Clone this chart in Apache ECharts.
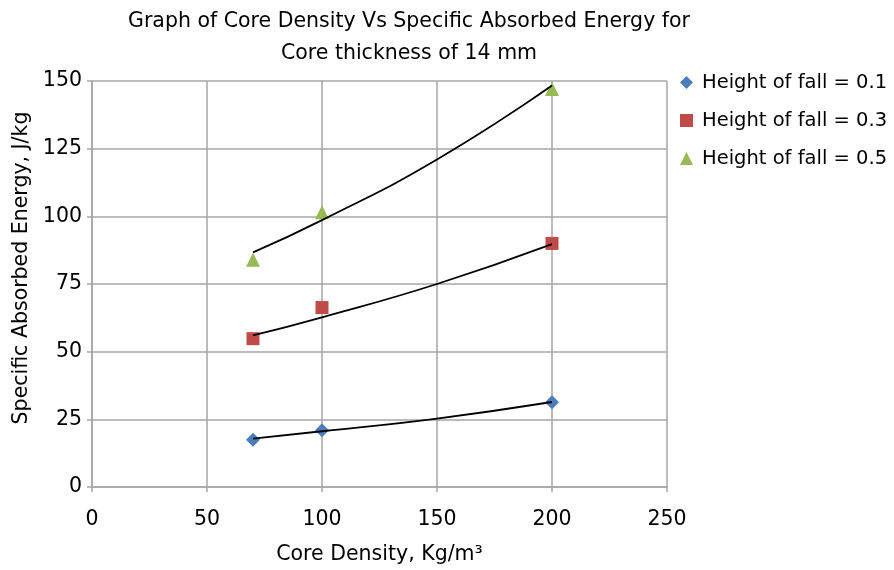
<!DOCTYPE html>
<html><head><meta charset="utf-8">
<script src="https://cdn.jsdelivr.net/npm/echarts@6/dist/echarts.min.js"></script>
<style>html,body{margin:0;padding:0;background:#fff}#c{width:894px;height:570px}</style>
</head><body><div id="c"></div>
<script>
const densities = [70, 100, 200];
const h01 = [17.5, 21, 31.3];
const h03 = [54.8, 66.3, 90];
const h05 = [84, 101.5, 147];
const trendX = [70, 100, 150, 200];
const trend01 = [17.9, 20.6, 25.3, 31.4];
const trend03 = [56, 62.7, 75, 89.7];
const trend05 = [86.7, 98.6, 121, 148.3];
const seriesNames = ['Height of fall = 0.1 m', 'Height of fall = 0.3 m', 'Height of fall = 0.5 m'];
const xTicks = [0, 50, 100, 150, 200, 250];
const yTicks = [0, 25, 50, 75, 100, 125, 150];

const pair = (xs, ys) => xs.map((x, i) => [x, ys[i]]);
const font = 'DejaVu Sans, sans-serif';
const chart = echarts.init(document.getElementById('c'), null, {renderer: 'canvas'});
const gridColor = '#a6a6a6';
const trendStyle = {type: 'line', smooth: true, symbol: 'none', lineStyle: {color: '#000', width: 1.8}, silent: true, z: 3};
chart.setOption({
  animation: false,
  title: {
    text: 'Graph of Core Density Vs Specific Absorbed Energy for\nCore thickness of 14 mm',
    left: 404, top: 1, textAlign: 'center',
    textStyle: {fontFamily: font, fontSize: 20.5, fontWeight: 'normal', color: '#000', lineHeight: 32}
  },
  legend: {
    orient: 'vertical', left: 675, top: 66, itemGap: 15, itemWidth: 13, itemHeight: 13,
    data: seriesNames,
    textStyle: {fontFamily: font, fontSize: 19.5, color: '#000', lineHeight: 23, padding: [0, 0, 0, 4]}
  },
  grid: {left: 92, right: 227, top: 81, bottom: 81},
  xAxis: {
    type: 'value', min: xTicks[0], max: xTicks[xTicks.length - 1], interval: 50,
    name: 'Core Density, Kg/m³', nameLocation: 'middle', nameGap: 57,
    nameTextStyle: {fontFamily: font, fontSize: 20.5, color: '#000'},
    axisLine: {show: true, lineStyle: {color: gridColor, width: 1.5}},
    axisTick: {show: true, length: 5, lineStyle: {color: gridColor, width: 1.5}},
    axisLabel: {fontFamily: font, fontSize: 20.5, color: '#000', margin: 22},
    splitLine: {show: true, lineStyle: {color: gridColor, width: 1.5}}
  },
  yAxis: {
    type: 'value', min: yTicks[0], max: yTicks[yTicks.length - 1], interval: 25,
    name: 'Specific Absorbed Energy, J/kg', nameLocation: 'middle', nameGap: 60,
    nameTextStyle: {fontFamily: font, fontSize: 20.5, color: '#000', padding: [0, 0, 0, 32]},
    axisLine: {show: true, lineStyle: {color: gridColor, width: 1.5}},
    axisTick: {show: true, length: 5, lineStyle: {color: gridColor, width: 1.5}},
    axisLabel: {fontFamily: font, fontSize: 20.5, color: '#000', margin: 10},
    splitLine: {show: true, lineStyle: {color: gridColor, width: 1.5}}
  },
  series: [
    Object.assign({name: 't1', data: pair(trendX, trend01)}, trendStyle),
    Object.assign({name: 't2', data: pair(trendX, trend03)}, trendStyle),
    Object.assign({name: 't3', data: pair(trendX, trend05)}, trendStyle),
    {name: seriesNames[0], type: 'scatter', symbol: 'diamond', symbolSize: [14, 14],
     itemStyle: {color: '#4a7ebb', opacity: 1}, data: pair(densities, h01), z: 2},
    {name: seriesNames[1], type: 'scatter', symbol: 'rect', symbolSize: 13,
     itemStyle: {color: '#be4b48', opacity: 1}, data: pair(densities, h03), z: 2},
    {name: seriesNames[2], type: 'scatter', symbol: 'triangle', symbolSize: 14,
     itemStyle: {color: '#98b954', opacity: 1}, data: pair(densities, h05), z: 2}
  ]
});
</script></body></html>
